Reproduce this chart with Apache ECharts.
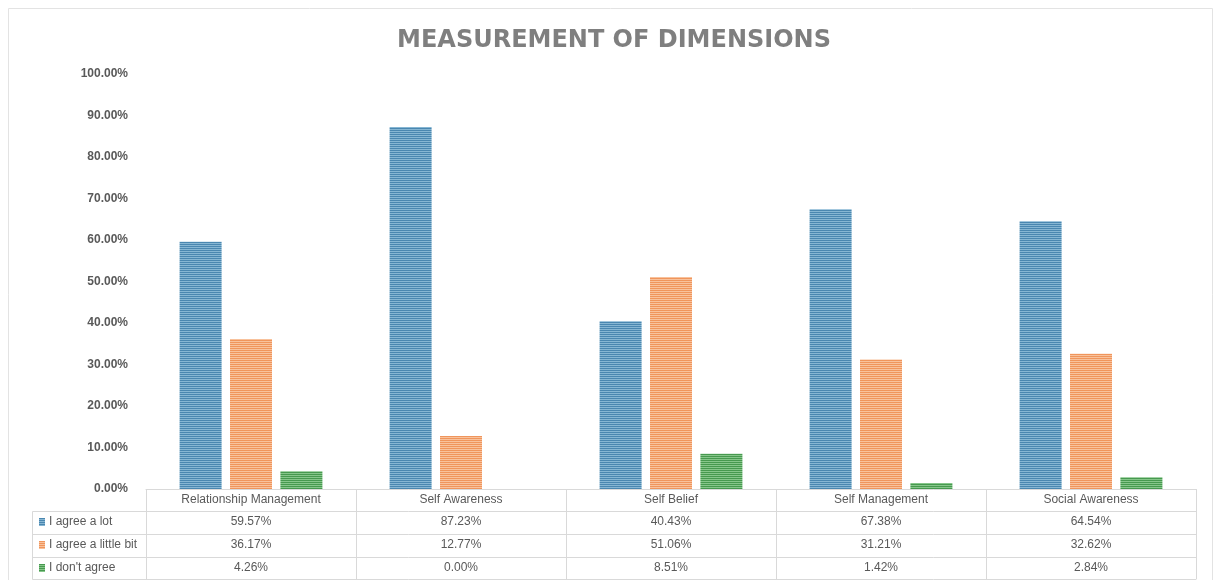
<!DOCTYPE html>
<html>
<head>
<meta charset="utf-8">
<script src="https://cdn.jsdelivr.net/npm/echarts@6/dist/echarts.min.js"></script>
<style>
html,body{margin:0;padding:0;background:#fff;}
#chart{width:1215px;height:580px;}
</style>
</head>
<body>
<div id="chart"></div>
<script>
// ---- data ----
const categories = ['Relationship Management', 'Self Awareness', 'Self Belief', 'Self Management', 'Social Awareness'];
const seriesNames = ['I agree a lot', 'I agree a little bit', "I don't agree"];
const agreeLot = [59.57, 87.23, 40.43, 67.38, 64.54];
const agreeLittle = [36.17, 12.77, 51.06, 31.21, 32.62];
const dontAgree = [4.26, 0.00, 8.51, 1.42, 2.84];
const yTicks = [0, 10, 20, 30, 40, 50, 60, 70, 80, 90, 100];
const titleText = 'MEASUREMENT OF DIMENSIONS';

// ---- styling ----
function stripe(dark, light) {
  const c = document.createElement('canvas');
  c.width = 4; c.height = 2;
  const g = c.getContext('2d');
  g.fillStyle = dark; g.fillRect(0, 0, 4, 1);
  g.fillStyle = light; g.fillRect(0, 1, 4, 1);
  return { image: c, repeat: 'repeat' };
}
const fills = [
  stripe('#4a87b0', '#86b6d3'),
  stripe('#f0955c', '#f8c29c'),
  stripe('#47994f', '#86c68a')
];
const allValues = [agreeLot, agreeLittle, dontAgree];
const gridLine = '#d9d9d9';
const textCol = '#595959';
const tableFont = "'Liberation Sans', Arial, sans-serif";
const fmt = v => v.toFixed(2) + '%';

const gridLeft = 146, gridRight = 1196, gridTop = 74, gridBottom = 489;
const rowOffsets = [22, 45, 68, 90];

const chart = echarts.init(document.getElementById('chart'), null, { renderer: 'canvas' });

const xAxes = [{
  type: 'category', data: categories, position: 'bottom', gridIndex: 0,
  axisLine: { show: true, onZero: false, lineStyle: { color: gridLine, width: 1 } },
  axisTick: { show: true, interval: 0, length: 90, lineStyle: { color: gridLine } },
  axisLabel: { interval: 0, margin: 5, color: textCol, fontSize: 12, fontFamily: tableFont }
}];
for (let r = 0; r < 4; r++) {
  xAxes.push({
    type: 'category', data: categories, position: 'bottom', gridIndex: 0,
    offset: rowOffsets[r],
    axisLine: { show: true, onZero: false, lineStyle: { color: gridLine, width: 1 } },
    axisTick: { show: false },
    axisLabel: r < 3 ? {
      show: true, interval: 0, margin: 5, color: textCol, fontSize: 12, fontFamily: tableFont,
      formatter: (val, idx) => fmt(allValues[r][idx])
    } : { show: false }
  });
}

const legendTops = [516, 539, 562];
const legends = seriesNames.map((n, i) => ({
  data: [n], orient: 'vertical', left: 39, top: legendTops[i],
  itemWidth: 6, itemHeight: 8, itemGap: 0, itemGap: 0, selectedMode: false, icon: 'rect',
  textStyle: { color: textCol, fontSize: 12, fontFamily: tableFont, padding: [0, 0, 0, -1] },
  padding: 0
}));

const series = seriesNames.map((n, i) => ({
  name: n, type: 'bar', xAxisIndex: 0, yAxisIndex: 0,
  data: allValues[i].map(v => v / 100),
  barWidth: 42, barGap: '20%',
  itemStyle: { color: fills[i] },
  emphasis: { disabled: true }
}));

const line = (x1, y1, x2, y2) => ({
  type: 'line', silent: true,
  shape: { x1, y1, x2, y2 },
  style: { stroke: gridLine, lineWidth: 1 }
});
const legendLeft = 32;
const rowYs = rowOffsets.map(o => gridBottom + o + 0.5);

chart.setOption({
  animation: false,
  backgroundColor: '#ffffff',
  title: {
    text: titleText, left: 609, top: 24, textAlign: 'center',
    textStyle: { color: '#7f7f7f', fontSize: 24, fontWeight: 'bold', fontFamily: "'DejaVu Sans', sans-serif" }
  },
  legend: legends,
  grid: { left: gridLeft, right: 1215 - gridRight, top: gridTop, bottom: 580 - gridBottom, containLabel: false },
  xAxis: xAxes,
  yAxis: {
    type: 'value', min: yTicks[0] / 100, max: yTicks[yTicks.length - 1] / 100, interval: 0.1,
    axisLine: { show: false }, axisTick: { show: false },
    splitLine: { show: false },
    axisLabel: {
      margin: 18, color: textCol, fontSize: 12, fontWeight: 'bold',
      fontFamily: "'Liberation Sans', Arial, sans-serif",
      formatter: v => (v * 100).toFixed(2) + '%'
    }
  },
  series: series,
  graphic: [
    {
      type: 'rect', silent: true, z: -10,
      shape: { x: 8.5, y: 8.5, width: 1204, height: 600 },
      style: { fill: 'none', stroke: '#e3e3e3', lineWidth: 1 }
    },
    ...rowYs.map(y => line(legendLeft + 0.5, y, gridLeft, y)),
    line(legendLeft + 0.5, rowYs[0], legendLeft + 0.5, rowYs[3])
  ]
});
</script>
</body>
</html>
